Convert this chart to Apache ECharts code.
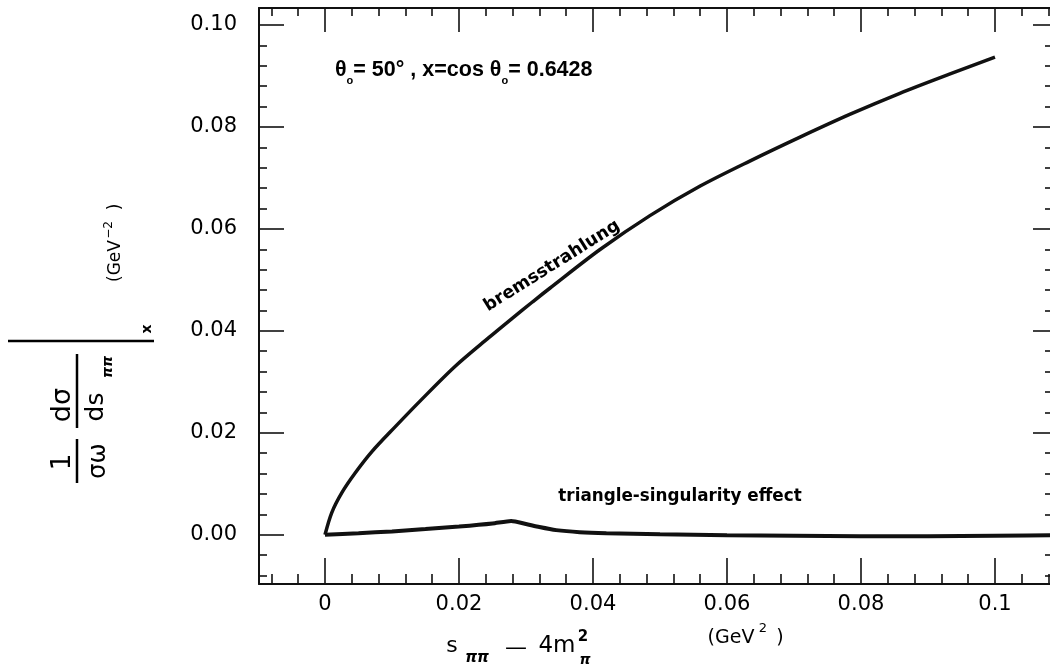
<!DOCTYPE html>
<html><head><meta charset="utf-8">
<script src="https://cdn.jsdelivr.net/npm/echarts@6/dist/echarts.min.js"></script>
<style>html,body{margin:0;padding:0;background:#fff}#c{width:1050px;height:664px}</style>
</head><body><div id="c"></div>
<script>
// ---- data ----
const xMajorTicks = [0, 0.02, 0.04, 0.06, 0.08, 0.1];
const xTickLabels = ['0', '0.02', '0.04', '0.06', '0.08', '0.1'];
const xMinorTicks = [-0.008, -0.004, 0.004, 0.008, 0.012, 0.016, 0.024, 0.028, 0.032, 0.036,
  0.044, 0.048, 0.052, 0.056, 0.064, 0.068, 0.072, 0.076, 0.084, 0.088, 0.092, 0.096, 0.104, 0.108];
const yMajorTicks = [0, 0.02, 0.04, 0.06, 0.08, 0.1];
const yTickLabels = ['0.00', '0.02', '0.04', '0.06', '0.08', '0.10'];
const yMinorTicks = [-0.008, -0.004, 0.004, 0.008, 0.012, 0.016, 0.024, 0.028, 0.032, 0.036,
  0.044, 0.048, 0.052, 0.056, 0.064, 0.068, 0.072, 0.076, 0.084, 0.088, 0.092, 0.096];

const bremsX = [0, 0.001, 0.0025, 0.0045, 0.007, 0.0105, 0.0144, 0.0194, 0.0244, 0.0279, 0.031,
  0.0336, 0.041, 0.0485, 0.056, 0.0634, 0.0709, 0.0784, 0.0858, 0.0933, 0.1];
const bremsY = [0, 0.0043, 0.0082, 0.0121, 0.0163, 0.0212, 0.0265, 0.0330, 0.0386, 0.0424, 0.0457,
  0.0484, 0.0559, 0.0626, 0.0684, 0.0733, 0.0780, 0.0825, 0.0866, 0.0904, 0.0937];

const triX = [0, 0.005, 0.01, 0.015, 0.02, 0.025, 0.0278, 0.030, 0.032, 0.0345, 0.038, 0.042,
  0.05, 0.06, 0.07, 0.08, 0.09, 0.1, 0.11];
const triY = [0, 0.0003, 0.00065, 0.0011, 0.0016, 0.0022, 0.0027, 0.0021, 0.0015, 0.0009, 0.0005, 0.0003,
  0.0001, -0.0001, -0.0002, -0.0003, -0.0003, -0.0002, -0.0001];

const XMIN = -0.00985, XMAX = 0.10866, YMIN = -0.00967, YMAX = 0.10333;
const FONT = 'DejaVu Sans';
const FONT2 = 'Liberation Sans';
const INK = '#111';

function lab(values, labels) {
  return v => {
    let best = 0;
    values.forEach((t, i) => { if (Math.abs(t - v) < Math.abs(values[best] - v)) best = i; });
    return labels[best];
  };
}

function xAx(pos, ticks, len, showLine, showLabel) {
  return {
    type: 'value', min: XMIN, max: XMAX, position: pos, gridIndex: 0,
    axisLine: { show: showLine, onZero: false, lineStyle: { color: INK, width: 2 } },
    axisTick: { show: true, inside: true, length: len, customValues: ticks, lineStyle: { color: INK, width: 1.6 } },
    axisLabel: showLabel ? { show: true, customValues: xMajorTicks, formatter: lab(xMajorTicks, xTickLabels),
      color: '#000', fontFamily: FONT, fontSize: 21, margin: 10 } : { show: false },
    splitLine: { show: false }
  };
}
function yAx(pos, ticks, len, showLine, showLabel) {
  return {
    type: 'value', min: YMIN, max: YMAX, position: pos, gridIndex: 0,
    axisLine: { show: showLine, onZero: false, lineStyle: { color: INK, width: 2 } },
    axisTick: { show: true, inside: true, length: len, customValues: ticks, lineStyle: { color: INK, width: 1.6 } },
    axisLabel: showLabel ? { show: true, customValues: yMajorTicks, formatter: lab(yMajorTicks, yTickLabels),
      color: '#000', fontFamily: FONT, fontSize: 21, margin: 22 } : { show: false },
    splitLine: { show: false }
  };
}

const rot = Math.PI / 2;
function rtext(x, y, text, size, extra) {
  return { type: 'text', x: x, y: y, rotation: rot,
    style: Object.assign({ text: text, fontFamily: FONT, fontSize: size, fill: '#000',
      align: 'center', verticalAlign: 'middle' }, extra || {}) };
}
function text(x, y, t, size, extra) {
  return { type: 'text', x: x, y: y,
    style: Object.assign({ text: t, fontFamily: FONT, fontSize: size, fill: '#000',
      align: 'center', verticalAlign: 'middle' }, extra || {}) };
}
function vline(x, y1, y2) {
  return { type: 'line', shape: { x1: x, y1: y1, x2: x, y2: y2 }, style: { stroke: '#000', lineWidth: 2.5 } };
}

const chart = echarts.init(document.getElementById('c'), null, { renderer: 'canvas' });
chart.setOption({
  backgroundColor: '#fff',
  animation: false,
  grid: { left: 259, right: -3, top: 8, bottom: 80, containLabel: false, outerBoundsMode: 'none' },
  xAxis: [
    xAx('bottom', xMajorTicks, 26, true, true),
    xAx('bottom', xMinorTicks, 10, false, false),
    xAx('top', xMajorTicks, 24, true, false),
    xAx('top', xMinorTicks, 8, false, false)
  ],
  yAxis: [
    yAx('left', yMajorTicks, 25, true, true),
    yAx('left', yMinorTicks, 8, false, false),
    yAx('right', yMajorTicks, 20, true, false),
    yAx('right', yMinorTicks, 8, false, false)
  ],
  series: [
    { type: 'line', name: 'bremsstrahlung', xAxisIndex: 0, yAxisIndex: 0,
      data: bremsX.map((x, i) => [x, bremsY[i]]), showSymbol: false, smooth: 0.3,
      lineStyle: { color: INK, width: 3.5 } },
    { type: 'line', name: 'triangle-singularity effect', xAxisIndex: 0, yAxisIndex: 0,
      data: triX.map((x, i) => [x, triY[i]]), showSymbol: false, smooth: 0.2, clip: true,
      lineStyle: { color: INK, width: 4 } }
  ],
  graphic: [
    // title annotation
    { type: 'text', x: 335, y: 70, style: {
      text: '{m|θ}{o|o}{m|= 50° , x=cos θ}{o|o}{m|= 0.6428}',
      fontFamily: FONT2, align: 'left', verticalAlign: 'middle', fill: '#000',
      rich: {
        m: { fontFamily: FONT2, fontSize: 21.5, fontWeight: 'bold', fill: '#000' },
        o: { fontFamily: FONT2, fontSize: 11, fontWeight: 'bold', fill: '#000', padding: [22, 0, 0, 0] }
      } } },
    // curve annotations
    { type: 'text', x: 552, y: 266, rotation: 0.56, style: { text: 'bremsstrahlung', fontFamily: FONT,
      fontSize: 17.5, fontWeight: 'bold', fill: '#000', align: 'center', verticalAlign: 'middle' } },
    text(680, 497, 'triangle-singularity effect', 16.8, { fontWeight: 'bold' }),
    // x-axis name
    text(452, 646, 's', 22),
    text(477, 658, 'ππ', 15, { fontWeight: 'bold', fontStyle: 'italic' }),
    text(516, 648, '—', 22),
    text(557, 646, '4m', 23),
    text(583, 637, '2', 15, { fontWeight: 'bold' }),
    text(585, 660, 'π', 14, { fontWeight: 'bold', fontStyle: 'italic' }),
    text(731, 638, '(GeV', 19),
    text(763, 629, '2', 13),
    text(780, 638, ')', 19),
    // y-axis name (rotated)
    rtext(63, 462, '1', 26),
    vline(77, 439, 483),
    rtext(99, 461, 'σω', 24),
    rtext(63, 405, 'dσ', 27),
    vline(77, 354, 428),
    rtext(96, 407, 'ds', 25),
    rtext(108, 367, 'ππ', 14, { fontWeight: 'bold', fontStyle: 'italic' }),
    { type: 'line', shape: { x1: 8, y1: 341, x2: 154, y2: 341 }, style: { stroke: '#000', lineWidth: 2.5 } },
    rtext(147, 329, 'x', 14, { fontWeight: 'bold' }),
    rtext(116, 261, '(GeV', 17),
    rtext(109, 230, '−2', 12),
    rtext(116, 207, ')', 17)
  ]
});
</script></body></html>
